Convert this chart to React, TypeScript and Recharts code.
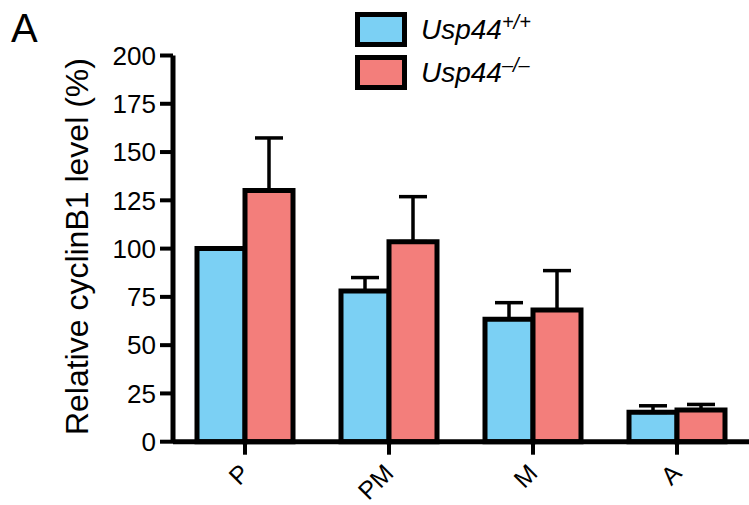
import React from "react";
import { BarChart, Bar, XAxis, YAxis, ErrorBar } from "recharts";

const categories = ["P", "PM", "M", "A"];
const wildType = [100, 78, 63.4, 15.2];
const wildTypeErr = [0, 7, 8.6, 3.4];
const knockout = [130.1, 103.6, 68.2, 16.4];
const knockoutErr = [27.2, 23.3, 20.4, 2.9];
const yTicks = [0, 25, 50, 75, 100, 125, 150, 175, 200];

const BLUE = "#7BD0F4";
const RED = "#F37E7B";
const FONT = "'Liberation Sans', Arial, Helvetica, sans-serif";

const data = categories.map((c, i) => ({
  name: c,
  wt: wildType[i],
  wtErr: [0, wildTypeErr[i]],
  ko: knockout[i],
  koErr: [0, knockoutErr[i]],
}));

function XTick(props: any) {
  const { x, y, payload } = props;
  return (
    <text
      x={0}
      y={0}
      transform={`translate(${x + 6},${y + 18}) rotate(-45)`}
      textAnchor="end"
      fontSize={25}
      fontFamily={FONT}
      fill="#000"
    >
      {payload.value}
    </text>
  );
}

function YLabel(props: any) {
  const { viewBox } = props;
  const cx = 88;
  const cy = viewBox.y + viewBox.height / 2 - 2;
  return (
    <text
      x={0}
      y={0}
      transform={`translate(${cx},${cy}) rotate(-90)`}
      textAnchor="middle"
      fontSize={32}
      fontFamily={FONT}
      fill="#000"
    >
      Relative cyclinB1 level (%)
    </text>
  );
}

function LegendBox() {
  const items = [
    { color: BLUE, sup: "+/+" },
    { color: RED, sup: "\u2013/\u2013" },
  ];
  return (
    <div style={{ position: "absolute", left: 355, top: 8, fontFamily: FONT }}>
      {items.map((it) => (
        <div key={it.sup} style={{ display: "flex", alignItems: "center", height: 43 }}>
          <div
            style={{
              width: 52,
              height: 35,
              boxSizing: "border-box",
              border: "5px solid #000",
              background: it.color,
            }}
          />
          <span style={{ marginLeft: 14, fontSize: 28, fontStyle: "italic", color: "#000" }}>
            Usp44
            <span style={{ fontSize: 20, position: "relative", top: -10 }}>{it.sup}</span>
          </span>
        </div>
      ))}
    </div>
  );
}

export default function App() {
  return (
    <div style={{ position: "absolute", left: 0, top: 0, width: 749, height: 505, background: "#fff" }}>
      <div
        style={{
          position: "absolute",
          left: 11,
          top: 8,
          fontSize: 40,
          fontFamily: FONT,
          lineHeight: "40px",
        }}
      >
        A
      </div>
      <LegendBox />
      <BarChart
        width={749}
        height={505}
        data={data}
        margin={{ top: 55.5, right: 0, bottom: 0, left: 0 }}
        barGap={0}
        barSize={48}
      >
        <XAxis
          dataKey="name"
          height={63.3}
          axisLine={{ stroke: "#000", strokeWidth: 5 }}
          tickLine={{ stroke: "#000", strokeWidth: 4 }}
          tickSize={13}
          tick={<XTick />}
          interval={0}
        />
        <YAxis
          width={173}
          domain={[0, 200]}
          ticks={yTicks}
          interval={0}
          axisLine={{ stroke: "#000", strokeWidth: 5 }}
          tickLine={{ stroke: "#000", strokeWidth: 4 }}
          tickSize={13}
          tickMargin={4}
          tick={{ fill: "#000", fontSize: 26, fontFamily: FONT }}
          label={<YLabel />}
        />
        <Bar dataKey="wt" fill={BLUE} stroke="#000" strokeWidth={5} isAnimationActive={false}>
          <ErrorBar dataKey="wtErr" width={14} stroke="#000" strokeWidth={3.5} direction="y" />
        </Bar>
        <Bar dataKey="ko" fill={RED} stroke="#000" strokeWidth={5} isAnimationActive={false}>
          <ErrorBar dataKey="koErr" width={14} stroke="#000" strokeWidth={3.5} direction="y" />
        </Bar>
      </BarChart>
    </div>
  );
}
